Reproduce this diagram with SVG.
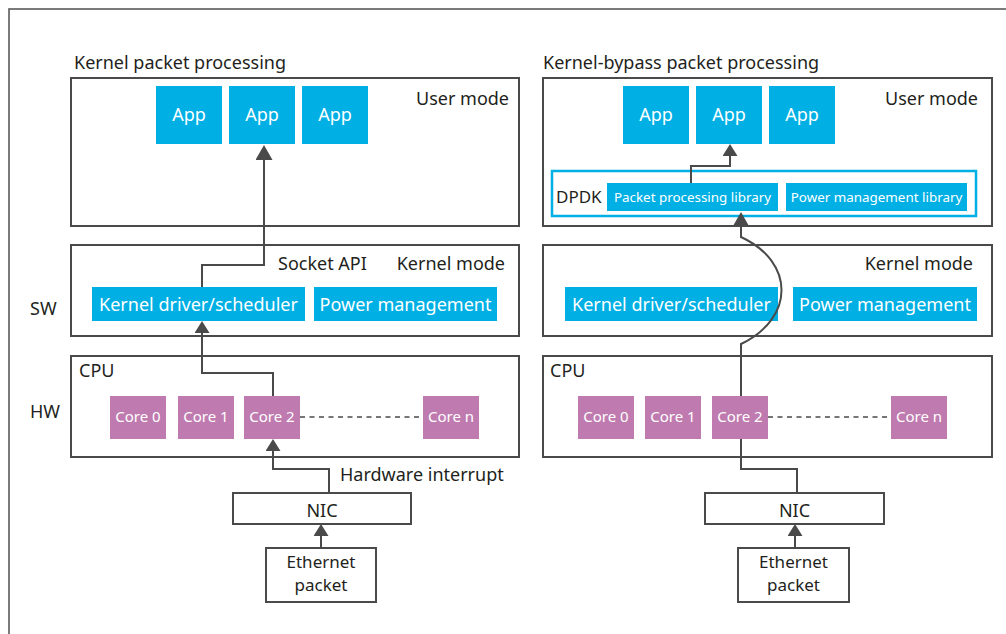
<svg xmlns="http://www.w3.org/2000/svg" width="1006" height="634" viewBox="0 0 1006 634">
<style>
text{font-family:"Noto Sans","Liberation Sans",sans-serif;fill:#231f20;font-size:18px}
.box{fill:#fff;stroke:#4a4a4a;stroke-width:2}
.app{fill:#00b0e4}
.core{fill:#bf7baf}
.wt{fill:#fff}
.m{text-anchor:middle}
.e{text-anchor:end}
.ct{font-size:15px}
.lib{font-size:13.4px}
.eth{font-size:17px}
.c{stroke:#4a4a4a;stroke-width:2;fill:none}
.d{stroke:#4a4a4a;stroke-width:1.6;fill:none;stroke-dasharray:5 4.5}
</style>
<defs>
<marker id="aL" markerUnits="userSpaceOnUse" viewBox="0 0 15 17" markerWidth="15" markerHeight="17" refX="0" refY="8.5" orient="auto"><path d="M0 0L15 8.5L0 17Z" fill="#4a4a4a"/></marker>
<marker id="aS" markerUnits="userSpaceOnUse" viewBox="0 0 12 15" markerWidth="12" markerHeight="15" refX="0" refY="7.5" orient="auto"><path d="M0 0L12 7.5L0 15Z" fill="#4a4a4a"/></marker>
</defs>
<rect x="0" y="0" width="1006" height="634" fill="#fff"/>
<rect x="9" y="9" width="1010" height="640" fill="none" stroke="#5a5a5a" stroke-width="1.6"/>

<g id="left-user">
<text x="74" y="69">Kernel packet processing</text>
<rect class="box" x="71" y="78" width="448" height="148"/>
<text class="e" x="509" y="105">User mode</text>
</g>
<g id="left-app1"><rect class="app" x="156" y="86" width="66" height="58"/><text class="wt m" x="189" y="121">App</text></g>
<g id="left-app2"><rect class="app" x="229" y="86" width="66" height="58"/><text class="wt m" x="262" y="121">App</text></g>
<g id="left-app3"><rect class="app" x="302" y="86" width="66" height="58"/><text class="wt m" x="335" y="121">App</text></g>

<g id="left-kernel">
<rect class="box" x="71" y="245" width="448" height="91"/>
<text x="278" y="270">Socket API</text>
<text class="e" x="505" y="270">Kernel mode</text>
</g>
<g id="left-driver"><rect class="app" x="92" y="287" width="213" height="34"/><text class="wt m" x="198.5" y="311">Kernel driver/scheduler</text></g>
<g id="left-power"><rect class="app" x="314" y="287" width="183" height="34"/><text class="wt m" x="405.5" y="311">Power management</text></g>
<g id="sw-label"><text x="30" y="315">SW</text></g>
<g id="hw-label"><text x="30" y="418">HW</text></g>

<g id="left-cpu">
<rect class="box" x="71" y="356" width="448" height="101"/>
<text x="79" y="377">CPU</text>
</g>

<g id="right-user">
<text x="543" y="69">Kernel-bypass packet processing</text>
<rect class="box" x="543" y="78" width="449" height="148"/>
<text class="e" x="978" y="105">User mode</text>
</g>
<g id="right-app1"><rect class="app" x="623" y="86" width="66" height="58"/><text class="wt m" x="656" y="121">App</text></g>
<g id="right-app2"><rect class="app" x="696" y="86" width="66" height="58"/><text class="wt m" x="729" y="121">App</text></g>
<g id="right-app3"><rect class="app" x="769" y="86" width="66" height="58"/><text class="wt m" x="802" y="121">App</text></g>
<g id="dpdk">
<rect x="552" y="171" width="424" height="45" fill="#fff" stroke="#00b0e4" stroke-width="2.5"/>
<text x="556" y="203" style="font-size:17px">DPDK</text>
</g>
<g id="pkt-lib"><rect class="app" x="607" y="183" width="171" height="28"/><text class="wt m lib" x="692.5" y="202">Packet processing library</text></g>
<g id="pwr-lib"><rect class="app" x="786" y="183" width="181" height="28"/><text class="wt m lib" x="876.5" y="202">Power management library</text></g>

<g id="right-kernel">
<rect class="box" x="543" y="245" width="449" height="91"/>
<text class="e" x="973" y="270">Kernel mode</text>
</g>
<g id="right-driver"><rect class="app" x="565" y="287" width="213" height="34"/><text class="wt m" x="671.5" y="311">Kernel driver/scheduler</text></g>
<g id="right-power"><rect class="app" x="793" y="287" width="184" height="34"/><text class="wt m" x="885" y="311">Power management</text></g>

<g id="right-cpu">
<rect class="box" x="543" y="356" width="449" height="101"/>
<text x="550" y="377">CPU</text>
</g>

<g id="connectors">
<path class="c" d="M202 287V265H264V160" marker-end="url(#aL)"/>
<path class="c" d="M273 396V373H202V333" marker-end="url(#aS)"/>
<path class="c" d="M329 493V469H273V451" marker-end="url(#aS)"/>
<path class="c" d="M321 548V536" marker-end="url(#aS)"/>
<path class="d" d="M300 417H423"/>
<path class="c" d="M691 183V166H730V156" marker-end="url(#aS)"/>
<path class="c" d="M797 493V469H741V439M741 396V344C795 318 795 262 741 237V227" marker-end="url(#aL)"/>
<path class="c" d="M795 548V536" marker-end="url(#aS)"/>
<path class="d" d="M768 417H891"/>
</g>

<g id="left-core0"><rect class="core" x="110" y="396" width="56" height="43"/><text class="wt m ct" x="138" y="422">Core 0</text></g>
<g id="left-core1"><rect class="core" x="178" y="396" width="56" height="43"/><text class="wt m ct" x="206" y="422">Core 1</text></g>
<g id="left-core2"><rect class="core" x="244" y="396" width="56" height="43"/><text class="wt m ct" x="272" y="422">Core 2</text></g>
<g id="left-coren"><rect class="core" x="423" y="396" width="56" height="43"/><text class="wt m ct" x="451" y="422">Core n</text></g>

<g id="right-core0"><rect class="core" x="578" y="396" width="56" height="43"/><text class="wt m ct" x="606" y="422">Core 0</text></g>
<g id="right-core1"><rect class="core" x="645" y="396" width="56" height="43"/><text class="wt m ct" x="673" y="422">Core 1</text></g>
<g id="right-core2"><rect class="core" x="712" y="396" width="56" height="43"/><text class="wt m ct" x="740" y="422">Core 2</text></g>
<g id="right-coren"><rect class="core" x="891" y="396" width="56" height="43"/><text class="wt m ct" x="919" y="422">Core n</text></g>

<g id="hw-interrupt-label"><text x="340" y="481">Hardware interrupt</text></g>

<g id="left-nic"><rect class="box" x="233" y="493" width="178" height="31"/><text class="m" x="322" y="517">NIC</text></g>
<g id="left-eth"><rect class="box" x="266" y="548" width="110" height="54"/><text class="m eth" x="321" y="568">Ethernet</text><text class="m eth" x="321" y="591">packet</text></g>
<g id="right-nic"><rect class="box" x="705" y="493" width="179" height="31"/><text class="m" x="794.5" y="517">NIC</text></g>
<g id="right-eth"><rect class="box" x="738" y="548" width="111" height="54"/><text class="m eth" x="793.5" y="568">Ethernet</text><text class="m eth" x="793.5" y="591">packet</text></g>
</svg>
